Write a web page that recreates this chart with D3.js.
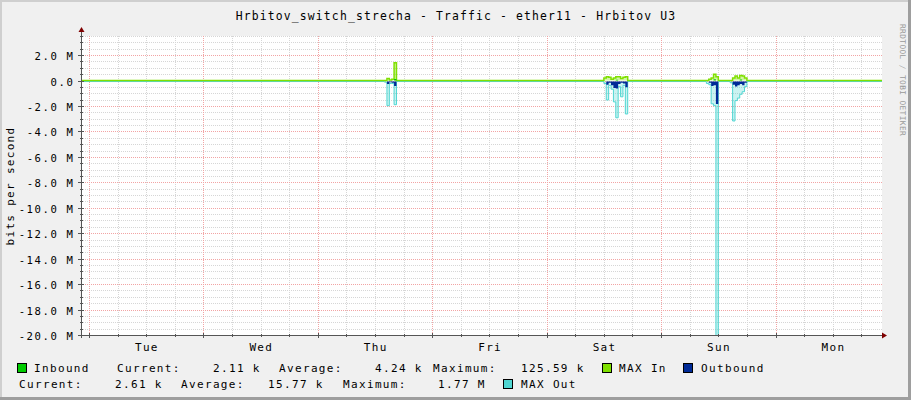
<!DOCTYPE html>
<html><head><meta charset="utf-8">
<script src="https://cdn.jsdelivr.net/npm/d3@7"></script>
<style>
html,body{margin:0;padding:0;background:#F0F0F0;}
svg{display:block;}
text{font-family:"DejaVu Sans Mono",monospace;fill:#000;}
</style></head>
<body>
<svg id="c" width="911" height="400"></svg>
<script>
// ---------- data ----------
const titleText = "Hrbitov_switch_strecha - Traffic - ether11 - Hrbitov U3";
const yLabelText = "bits per second";
const timeStart = "2024-01-01T22:20:00Z";
const timeEnd = "2024-01-08T22:20:00Z";
const dayLabels = ["Tue","Wed","Thu","Fri","Sat","Sun","Mon"];
const yTickValues = [2,0,-2,-4,-6,-8,-10,-12,-14,-16,-18,-20]; // in M
const yTickLabels = ["2.0 M","0.0","-2.0 M","-4.0 M","-6.0 M","-8.0 M","-10.0 M","-12.0 M","-14.0 M","-16.0 M","-18.0 M","-20.0 M"];

// [time (UTC), value in Mbit/s]
const inbound = [
 ["2024-01-01T22:20",0],
 ["2024-01-04T16:00",0.13],["2024-01-04T16:30",0],
 ["2024-01-06T14:30",0.06],["2024-01-06T15:00",0],
 ["2024-01-07T11:00",0.1],["2024-01-07T11:30",0],
 ["2024-01-07T16:30",0.08],["2024-01-07T17:00",0],
 ["2024-01-08T22:20",0]
];
const maxIn = [
 ["2024-01-01T22:20",0],
 ["2024-01-04T14:30",0.15],["2024-01-04T15:00",0.05],["2024-01-04T15:30",0.1],["2024-01-04T16:00",1.4],["2024-01-04T16:30",0],
 ["2024-01-06T12:00",0.2],["2024-01-06T12:30",0.3],["2024-01-06T13:00",0.25],["2024-01-06T13:30",0.1],["2024-01-06T14:00",0.2],
 ["2024-01-06T14:30",0.3],["2024-01-06T15:00",0.3],["2024-01-06T15:30",0.15],["2024-01-06T16:00",0.25],["2024-01-06T16:30",0.3],["2024-01-06T17:00",0],
 ["2024-01-07T10:00",0.1],["2024-01-07T10:30",0.2],["2024-01-07T11:00",0.5],["2024-01-07T11:30",0.3],["2024-01-07T12:00",0],
 ["2024-01-07T15:00",0.2],["2024-01-07T15:30",0.35],["2024-01-07T16:00",0.2],["2024-01-07T16:30",0.4],["2024-01-07T17:00",0.35],["2024-01-07T17:30",0.2],["2024-01-07T18:00",0],
 ["2024-01-08T22:20",0]
];
const outbound = [
 ["2024-01-01T22:20",0],
 ["2024-01-04T14:30",-0.2],["2024-01-04T15:00",-0.05],["2024-01-04T15:30",-0.1],["2024-01-04T16:00",-0.35],["2024-01-04T16:30",0],
 ["2024-01-06T12:30",-0.25],["2024-01-06T13:00",-0.1],["2024-01-06T13:30",-0.3],["2024-01-06T14:00",-0.5],["2024-01-06T14:30",-0.55],
 ["2024-01-06T15:00",-0.2],["2024-01-06T15:30",-0.1],["2024-01-06T16:00",-0.15],["2024-01-06T16:30",-0.45],["2024-01-06T17:00",0],
 ["2024-01-07T10:00",-0.1],["2024-01-07T10:30",-0.35],["2024-01-07T11:00",-0.3],["2024-01-07T11:30",-1.77],["2024-01-07T12:00",0],
 ["2024-01-07T15:00",-0.25],["2024-01-07T15:30",-0.4],["2024-01-07T16:00",-0.3],["2024-01-07T16:30",-0.2],["2024-01-07T17:00",-0.3],["2024-01-07T17:30",-0.1],["2024-01-07T18:00",0],
 ["2024-01-08T22:20",0]
];
const maxOut = [
 ["2024-01-01T22:20",0],
 ["2024-01-04T14:00",-0.05],["2024-01-04T14:30",-1.9],["2024-01-04T15:00",-0.15],["2024-01-04T15:30",-0.15],["2024-01-04T16:00",-1.82],["2024-01-04T16:30",0],
 ["2024-01-06T12:00",-0.15],["2024-01-06T12:30",-1.45],["2024-01-06T13:00",-0.3],["2024-01-06T13:30",-0.6],["2024-01-06T14:00",-1.6],
 ["2024-01-06T14:30",-2.85],["2024-01-06T15:00",-0.4],["2024-01-06T15:30",-1.2],["2024-01-06T16:00",-0.3],["2024-01-06T16:30",-2.55],["2024-01-06T17:00",0],
 ["2024-01-07T09:30",-0.15],["2024-01-07T10:00",-0.25],["2024-01-07T10:30",-1.75],["2024-01-07T11:00",-1.9],["2024-01-07T11:30",-24],["2024-01-07T12:00",0],
 ["2024-01-07T14:30",-0.1],["2024-01-07T15:00",-3.1],["2024-01-07T15:30",-1.5],["2024-01-07T16:00",-1.3],["2024-01-07T16:30",-1.0],
 ["2024-01-07T17:00",-0.8],["2024-01-07T17:30",-0.4],["2024-01-07T18:00",0],
 ["2024-01-08T22:20",0]
];
const legendRow1 = [["Inbound",34],["Current:",117],["2.11 k",213],["Average:",279],["4.24 k",375],["Maximum:",433],["125.59 k",521],["MAX In",619],["Outbound",701]];
const legendRow2 = [["Current:",19],["2.61 k",115],["Average:",181],["15.77 k",268],["Maximum:",343],["1.77 M",438],["MAX Out",521]];
const colors = {inbound:"#00CC00", maxIn:"#7FE000", outbound:"#002A97", maxOut:"#50D6D2"};

// ---------- drawing ----------
const svg = d3.select("#c");
const W = 911, H = 400;
const X0 = 81, X1 = 882, Y0 = 335, Y1 = 36;

// frame
svg.append("rect").attr("x",0).attr("y",0).attr("width",W).attr("height",H).attr("fill","#F0F0F0");
svg.append("rect").attr("x",0).attr("y",0).attr("width",W).attr("height",2).attr("fill","#CFCFCF");
svg.append("rect").attr("x",0).attr("y",0).attr("width",2).attr("height",H).attr("fill","#CFCFCF");
svg.append("rect").attr("x",W-3).attr("y",0).attr("width",3).attr("height",H).attr("fill","#9E9E9E");
svg.append("rect").attr("x",0).attr("y",H-3).attr("width",W).attr("height",3).attr("fill","#9E9E9E");

const parse = s => new Date(s.length === 16 ? s + ":00Z" : s);
const x = d3.scaleUtc().domain([parse(timeStart), parse(timeEnd)]).range([X0, X1]);
const y = d3.scaleLinear().domain([-20, 3.5]).range([Y0, Y1]);

// canvas
svg.append("rect").attr("x",X0).attr("y",Y1).attr("width",X1-X0).attr("height",Y0-Y1).attr("fill","#fff");

// grid
const g = svg.append("g");
const minorY = d3.range(-20, 3.51, 0.5).filter(v => Math.abs(v % 2) > 1e-9);
g.selectAll(".gy").data(minorY).join("line")
  .attr("x1",X0).attr("x2",X1).attr("y1",d=>Math.round(y(d))+0.5).attr("y2",d=>Math.round(y(d))+0.5)
  .attr("stroke","#D6D6D6").attr("stroke-dasharray","1,1");
const hours6 = d3.utcHour.every(6).range(x.domain()[0], x.domain()[1]).filter(d => d.getUTCHours() !== 0);
g.selectAll(".gx").data(hours6).join("line")
  .attr("y1",Y1).attr("y2",Y0).attr("x1",d=>Math.round(x(d))+0.5).attr("x2",d=>Math.round(x(d))+0.5)
  .attr("stroke","#D6D6D6").attr("stroke-dasharray","1,1");
g.selectAll(".my").data(yTickValues).join("line")
  .attr("x1",X0).attr("x2",X1).attr("y1",d=>Math.round(y(d))+0.5).attr("y2",d=>Math.round(y(d))+0.5)
  .attr("stroke","#F2A4A4").attr("stroke-dasharray","1,1");
const days = d3.utcDay.range(x.domain()[0], x.domain()[1]);
g.selectAll(".mx").data(days).join("line")
  .attr("y1",Y1).attr("y2",Y0).attr("x1",d=>Math.round(x(d))+0.5).attr("x2",d=>Math.round(x(d))+0.5)
  .attr("stroke","#F2A4A4").attr("stroke-dasharray","1,1");

// clip
svg.append("clipPath").attr("id","clip").append("rect")
  .attr("x",X0).attr("y",Y1).attr("width",X1-X0).attr("height",Y0-Y1);
const plot = svg.append("g").attr("clip-path","url(#clip)");

const toPts = arr => arr.map(d => [parse(d[0]), d[1]]);
const area = d3.area().x(d=>x(d[0])).y0(y(0)).y1(d=>y(d[1])).curve(d3.curveStepAfter);
const line = d3.line().x(d=>x(d[0])).y(d=>y(d[1])).curve(d3.curveStepAfter);

const neg = plot.append("g").attr("transform","translate(0,1)");
neg.append("path").attr("d", area(toPts(maxOut))).attr("fill", colors.maxOut).attr("fill-opacity",0.3);
neg.append("path").attr("d", line(toPts(maxOut))).attr("fill","none").attr("stroke",colors.maxOut).attr("stroke-width",1);
neg.append("path").attr("d", area(toPts(outbound))).attr("fill", colors.outbound);

plot.append("path").attr("d", area(toPts(maxIn))).attr("fill", colors.maxIn).attr("fill-opacity",0.35);
plot.append("path").attr("d", line(toPts(maxIn))).attr("fill","none").attr("stroke",colors.maxIn).attr("stroke-width",1.5);
plot.append("path").attr("d", area(toPts(inbound))).attr("fill", colors.inbound);

// axes
const axisCol = "#555";
svg.append("line").attr("x1",X0+0.5).attr("x2",X0+0.5).attr("y1",Y0+3).attr("y2",31).attr("stroke",axisCol);
svg.append("line").attr("x1",X0-3).attr("x2",X1+1).attr("y1",Y0+0.5).attr("y2",Y0+0.5).attr("stroke",axisCol);
svg.append("path").attr("d",`M${X0-2.5},${32}L${X0+0.5},${27}L${X0+3.5},${32}Z`).attr("fill","#7F0000");
svg.append("path").attr("d",`M${X1+0},${Y0-2.5}L${X1+5},${Y0+0.5}L${X1+0},${Y0+3.5}Z`).attr("fill","#7F0000");
// ticks
svg.selectAll(".ty").data(yTickValues).join("line")
  .attr("x1",X0-3).attr("x2",X0+3).attr("y1",d=>Math.round(y(d))+0.5).attr("y2",d=>Math.round(y(d))+0.5).attr("stroke",axisCol);
svg.selectAll(".tym").data(minorY).join("line")
  .attr("x1",X0-1).attr("x2",X0+2).attr("y1",d=>Math.round(y(d))+0.5).attr("y2",d=>Math.round(y(d))+0.5).attr("stroke",axisCol);
svg.selectAll(".tx").data(days).join("line")
  .attr("y1",Y0-2).attr("y2",Y0+3).attr("x1",d=>Math.round(x(d))+0.5).attr("x2",d=>Math.round(x(d))+0.5).attr("stroke",axisCol);
svg.selectAll(".txm").data(hours6).join("line")
  .attr("y1",Y0-1).attr("y2",Y0+2).attr("x1",d=>Math.round(x(d))+0.5).attr("x2",d=>Math.round(x(d))+0.5).attr("stroke",axisCol);

// y tick labels
svg.selectAll(".yl").data(yTickValues).join("text")
  .attr("x",74.5).attr("y",d=>y(d)+5).attr("text-anchor","end")
  .attr("font-size","10.6px").attr("letter-spacing","1.6px")
  .text((d,i)=>yTickLabels[i]);

// x labels (noon of each day)
const noons = days.map(d => d3.utcHour.offset(d, 12));
svg.selectAll(".xl").data(noons).join("text")
  .attr("x",d=>x(d)+0.7).attr("y",351).attr("text-anchor","middle")
  .attr("font-size","11px").attr("letter-spacing","1.3px")
  .text((d,i)=>dayLabels[i]);

// title
svg.append("text").attr("x",456).attr("y",20).attr("text-anchor","middle")
  .attr("font-size","11.4px").attr("letter-spacing","1.15px").text(titleText);

// y label
svg.append("text").attr("transform","translate(14,186) rotate(-90)").attr("text-anchor","middle")
  .attr("font-size","11px").attr("letter-spacing","1.3px").text(yLabelText);

// watermark
svg.append("text").attr("transform","translate(900,24) rotate(90)").attr("text-anchor","start")
  .attr("font-size","7.8px").attr("letter-spacing","0.4px").style("fill","#999").text("RRDTOOL / TOBI OETIKER");

// legend
const leg = svg.append("g").attr("font-size","11px").attr("letter-spacing","1.35px");
leg.selectAll(".l1").data(legendRow1).join("text").attr("x",d=>d[1]).attr("y",372).text(d=>d[0]);
leg.selectAll(".l2").data(legendRow2).join("text").attr("x",d=>d[1]).attr("y",388).text(d=>d[0]);
const sw = [[17.5,363.5,colors.inbound],[602.5,363.5,colors.maxIn],[683.5,363.5,colors.outbound],[503.5,379.5,colors.maxOut]];
svg.selectAll(".sw").data(sw).join("rect").attr("x",d=>d[0]).attr("y",d=>d[1]).attr("width",9).attr("height",9)
  .attr("fill",d=>d[2]).attr("stroke","#000").attr("stroke-width",1);
</script>
</body></html>
